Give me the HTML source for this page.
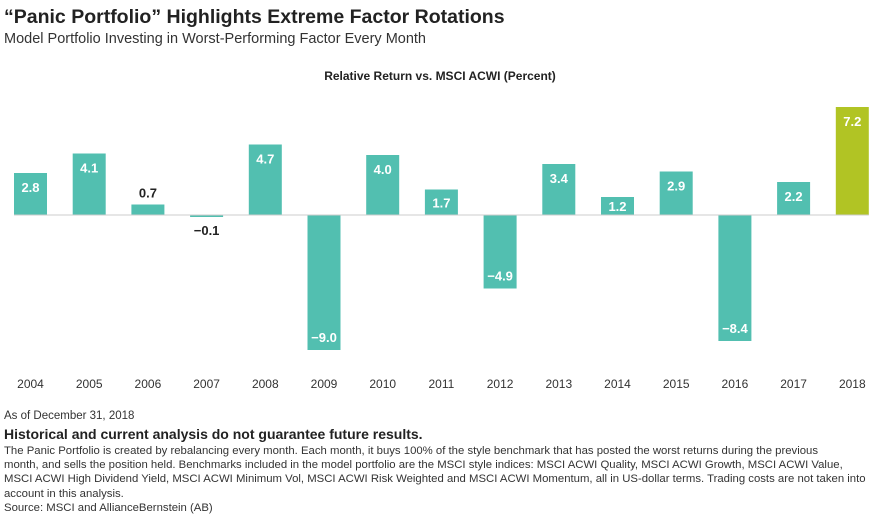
<!DOCTYPE html>
<html><head><meta charset="utf-8"><style>
body{margin:0;width:880px;height:521px;background:#fff;font-family:"Liberation Sans",sans-serif;color:#222;position:relative;overflow:hidden}
.t{position:absolute;left:4px;white-space:nowrap}
</style></head><body>
<div class="t" style="top:6px;font-size:19.5px;font-weight:bold;color:#222">“Panic Portfolio” Highlights Extreme Factor Rotations</div>
<div class="t" style="top:31px;font-size:14.5px;color:#333">Model Portfolio Investing in Worst-Performing Factor Every Month</div>
<svg id="ch" width="880" height="400" style="position:absolute;left:0;top:0">
<text x="440" y="80" text-anchor="middle" font-size="12" font-weight="bold" fill="#222">Relative Return vs. MSCI ACWI (Percent)</text>
</svg>
<div class="t" style="top:410px;font-size:11.5px;color:#333">As of December 31, 2018</div>
<div class="t" style="top:426px;font-size:14px;font-weight:bold;color:#222">Historical and current analysis do not guarantee future results.</div>
<div style="position:absolute;left:4px;top:444px;white-space:nowrap;font-size:11.35px;line-height:14.2px;color:#333">The Panic Portfolio is created by rebalancing every month. Each month, it buys 100% of the style benchmark that has posted the worst returns during the previous<br>month, and sells the position held. Benchmarks included in the model portfolio are the MSCI style indices: MSCI ACWI Quality, MSCI ACWI Growth, MSCI ACWI Value,<br>MSCI ACWI High Dividend Yield, MSCI ACWI Minimum Vol, MSCI ACWI Risk Weighted and MSCI ACWI Momentum, all in US-dollar terms. Trading costs are not taken into<br>account in this analysis.<br>Source: MSCI and AllianceBernstein (AB)</div>
<script>
const years=["2004","2005","2006","2007","2008","2009","2010","2011","2012","2013","2014","2015","2016","2017","2018"];
const values=[2.8,4.1,0.7,-0.1,4.7,-9.0,4.0,1.7,-4.9,3.4,1.2,2.9,-8.4,2.2,7.2];
const svg=document.getElementById('ch');const NS='http://www.w3.org/2000/svg';
const y0=215,k=15,x0=14,step=58.7,bw=33;
const y=v=>y0-v*k, x=i=>x0+i*step;
function mk(t,a){const e=document.createElementNS(NS,t);for(const n in a)e.setAttribute(n,a[n]);svg.appendChild(e);return e;}
values.forEach((v,i)=>{
 const r=mk('rect',{x:x(i),y:Math.min(y(v),y0),width:bw,height:Math.max(Math.abs(v*k),2),fill:i==values.length-1?'#b1c424':'#52bfb0'});
 
 
 const big=Math.abs(v)>=1;let ty;
 if(v>=0)ty=big?Math.min(y(v)+19,(y(v)+y0)/2+5):y(v)-7;else ty=big?y(v)-8:y0+20;
 const t=mk('text',{x:x(i)+bw/2,y:ty,'text-anchor':'middle','font-size':13,'font-weight':'bold',fill:big?'#fff':'#222'});
 t.textContent=v.toFixed(1).replace('-','\u2212');
 
 
 const yl=mk('text',{x:x(i)+bw/2,y:388,'text-anchor':'middle','font-size':12,fill:'#333'});
 yl.textContent=years[i];
 
 
});
const z=mk('line',{x1:x0,x2:x(values.length-1)+bw,y1:y0,y2:y0,stroke:'#ccc','stroke-width':1});


</script>
</body></html>
